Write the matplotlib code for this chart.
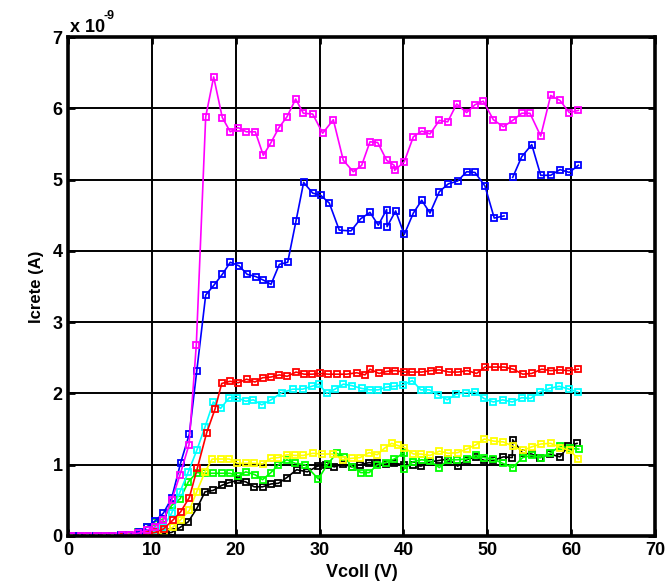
import matplotlib
matplotlib.use("Agg")
import matplotlib.pyplot as plt
import numpy as np

# Icrete (in units of 1e-9 A) vs Vcoll (V), one list pair per curve
x_magenta = [0.4, 1.6, 2.4, 3.4, 4.4, 5.4, 6.4, 7.4, 8.4, 9.38,
             10.37, 11.37, 12.36, 13.36, 14.43, 15.3, 16.42, 17.37, 18.4, 19.35,
             20.27, 21.26, 22.34, 23.29, 24.21, 25.16, 26.11, 27.15, 28.06, 29.18,
             30.37, 31.64, 32.83, 34.02, 35.02, 36.01, 36.93, 38.0, 38.9, 38.95,
             40.1, 41.18, 42.18, 43.17, 44.28, 45.28, 46.35, 47.54, 48.53, 49.52,
             50.72, 51.91, 53.03, 54.1, 55.09, 56.37, 57.56, 58.67, 59.78, 60.85]
y_magenta = [0, 0, 0, 0, 0, 0, 0.01, 0.02, 0.04, 0.08,
             0.13, 0.22, 0.5, 0.86, 1.28, 2.68, 5.88, 6.44, 5.87, 5.67,
             5.73, 5.67, 5.67, 5.34, 5.52, 5.73, 5.88, 6.13, 5.93, 5.92,
             5.65, 5.84, 5.27, 5.11, 5.2, 5.53, 5.52, 5.27, 5.2, 5.13,
             5.25, 5.6, 5.68, 5.64, 5.83, 5.81, 6.06, 5.94, 6.05, 6.1,
             5.84, 5.74, 5.83, 5.93, 5.93, 5.61, 6.18, 6.11, 5.94, 5.97]

x_blue = [0.3, 1.3, 2.3, 3.3, 4.3, 5.3, 6.3, 7.3, 8.45, 9.46,
          10.37, 11.37, 12.36, 13.44, 14.47, 15.35, 16.42, 17.41, 18.4, 19.35,
          20.39, 21.38, 22.38, 23.29, 24.21, 25.2, 26.2, 27.19, 28.1, 29.18,
          30.13, 31.16, 32.35, 33.75, 34.9, 36.01, 37.0, 38.0, 38.05, 39.07,
          40.1, 41.18, 42.18, 43.17, 44.28, 45.35, 46.47, 47.54, 48.53, 49.72,
          50.83, 51.99, 52.5, 53.03, 54.1, 55.3, 56.37, 57.56, 58.67, 59.78,
          60.85]
y_blue = [0, 0, 0, 0, 0, 0, 0.01, 0.02, 0.06, 0.13,
          0.21, 0.32, 0.53, 1.03, 1.43, 2.31, 3.38, 3.52, 3.67, 3.84,
          3.79, 3.67, 3.64, 3.59, 3.53, 3.81, 3.84, 4.42, 4.96, 4.81,
          4.78, 4.67, 4.29, 4.28, 4.45, 4.54, 4.36, 4.58, 4.34, 4.56,
          4.23, 4.53, 4.71, 4.53, 4.83, 4.94, 4.98, 5.11, 5.1, 4.91,
          4.46, 4.49, np.nan, 5.03, 5.32, 5.49, 5.06, 5.06, 5.14, 5.1,
          5.2]

x_red = [0.3, 1.3, 2.3, 3.3, 4.3, 5.3, 6.3, 7.3, 8.4, 9.4,
         10.4, 11.4, 12.48, 13.44, 14.47, 15.42, 16.54, 17.53, 18.33, 19.32,
         20.3, 21.3, 22.3, 23.2, 24.2, 25.2, 26.15, 27.19, 28.14, 29.13,
         30.05, 31.04, 32.04, 33.23, 34.43, 35.42, 36.01, 37.09, 38.05, 39.05,
         40.07, 41.06, 42.18, 43.25, 44.28, 45.43, 46.54, 47.61, 48.73, 49.72,
         50.92, 52.03, 53.1, 54.22, 55.29, 56.49, 57.56, 58.67, 59.74, 60.85]
y_red = [0, 0, 0, 0, 0, 0, 0, 0.01, 0.02, 0.03,
         0.05, 0.1, 0.22, 0.34, 0.54, 0.95, 1.45, 1.78, 2.14, 2.17,
         2.15, 2.2, 2.16, 2.22, 2.23, 2.26, 2.24, 2.3, 2.27, 2.27,
         2.28, 2.27, 2.27, 2.27, 2.29, 2.26, 2.34, 2.28, 2.31, 2.32,
         2.3, 2.3, 2.3, 2.32, 2.33, 2.3, 2.3, 2.32, 2.28, 2.37,
         2.37, 2.37, 2.34, 2.27, 2.28, 2.34, 2.32, 2.33, 2.32, 2.34]

x_cyan = [0.3, 1.3, 2.3, 3.3, 4.3, 5.3, 6.3, 7.3, 8.4, 9.4,
          10.4, 11.37, 12.36, 13.36, 14.35, 15.35, 16.34, 17.33, 18.2, 19.23,
          20.19, 21.19, 22.1, 23.1, 24.21, 25.48, 26.79, 27.98, 29.06, 29.93,
          30.85, 31.84, 32.83, 33.83, 35.02, 36.01, 37.0, 38.0, 38.9, 39.98,
          41.06, 42.06, 43.09, 44.16, 45.23, 46.27, 47.42, 48.53, 49.6, 50.72,
          51.83, 52.98, 54.1, 55.17, 56.28, 57.39, 58.59, 59.74, 60.78]
y_cyan = [0, 0, 0, 0, 0, 0, 0, 0.01, 0.02, 0.04,
          0.07, 0.13, 0.32, 0.62, 0.9, 1.2, 1.53, 1.88, 1.79, 1.94,
          1.94, 1.89, 1.91, 1.84, 1.91, 2.01, 2.06, 2.06, 2.1, 2.13,
          2.0, 2.06, 2.13, 2.11, 2.07, 2.05, 2.05, 2.09, 2.1, 2.12,
          2.18, 2.05, 2.05, 1.98, 1.91, 1.99, 2.01, 2.02, 1.93, 1.88,
          1.91, 1.88, 1.94, 1.93, 2.02, 2.07, 2.1, 2.06, 2.02]

x_yellow = [0.3, 1.3, 2.3, 3.3, 4.3, 5.3, 6.3, 7.3, 8.4, 9.4,
            10.4, 11.4, 12.48, 13.44, 14.47, 15.35, 16.34, 17.2, 18.3, 19.23,
            20.2, 21.2, 22.2, 23.2, 24.2, 25.1, 26.1, 27.07, 28.06, 29.18,
            30.33, 31.56, 32.76, 33.83, 34.82, 35.9, 36.88, 37.72, 38.6, 39.3,
            40.1, 41.18, 42.1, 43.17, 44.28, 45.35, 46.47, 47.54, 48.65, 49.64,
            50.8, 51.91, 53.03, 54.22, 55.29, 56.37, 57.56, 58.67, 59.86, 60.85]
y_yellow = [0, 0, 0, 0, 0, 0, 0, 0, 0.01, 0.02,
            0.03, 0.06, 0.12, 0.23, 0.36, 0.62, 0.9, 1.08, 1.08, 1.08,
            1.02, 1.02, 1.02, 1.01, 1.09, 1.1, 1.14, 1.13, 1.13, 1.16,
            1.15, 1.15, 1.07, 1.09, 1.1, 1.17, 1.14, 1.23, 1.3, 1.27,
            1.24, 1.15, 1.15, 1.13, 1.19, 1.16, 1.17, 1.22, 1.28, 1.36,
            1.33, 1.32, 1.26, 1.2, 1.25, 1.29, 1.3, 1.24, 1.2, 1.08]

x_green = [0.3, 1.3, 2.3, 3.3, 4.3, 5.3, 6.3, 7.3, 8.4, 9.38,
           10.37, 11.37, 12.36, 13.36, 14.35, 15.35, 16.34, 17.33, 18.33, 19.32,
           20.31, 21.2, 22.3, 23.2, 24.2, 25.1, 26.1, 27.07, 28.26, 29.85,
           30.97, 32.04, 32.95, 33.9, 34.9, 35.93, 36.88, 37.88, 38.91, 40.1,
           40.12, 41.1, 42.18, 43.17, 44.28, 45.35, 46.43, 47.54, 48.65, 49.64,
           50.72, 51.83, 53.03, 54.22, 55.29, 56.37, 57.47, 58.67, 59.86, 60.9]
y_green = [0, 0, 0, 0, 0, 0, 0.01, 0.02, 0.05, 0.13,
           0.2, 0.24, 0.43, 0.52, 0.76, 0.89, 0.88, 0.88, 0.88, 0.88,
           0.84, 0.9, 0.86, 0.79, 0.89, 1.0, 1.07, 1.02, 1.0, 0.8,
           1.01, 1.16, 1.11, 0.97, 0.89, 0.89, 1.0, 1.03, 1.08, 1.17,
           0.94, 1.04, 1.07, 1.05, 0.96, 1.07, 1.07, 1.08, 1.13, 1.1,
           1.08, 1.02, 0.96, 1.1, 1.13, 1.1, 1.16, 1.26, 1.23, 1.22]

x_black = [0.3, 1.3, 2.3, 3.3, 4.3, 5.3, 6.3, 7.3, 8.4, 9.4,
           10.4, 11.4, 12.36, 13.36, 14.35, 15.42, 16.34, 17.33, 18.33, 19.23,
           20.23, 21.2, 22.2, 23.2, 24.2, 25.1, 26.1, 27.27, 28.54, 29.77,
           30.77, 31.76, 32.83, 33.83, 34.82, 35.9, 36.88, 37.88, 38.91, 40.1,
           41.1, 42.1, 43.17, 44.28, 45.35, 46.47, 47.54, 48.65, 49.64, 50.72,
           51.91, 52.98, 53.03, 54.22, 55.29, 56.28, 57.47, 58.67, 59.66, 60.7]
y_black = [0, 0, 0, 0, 0, 0, 0, 0, 0, 0.01,
           0.02, 0.03, 0.05, 0.12, 0.2, 0.4, 0.62, 0.64, 0.71, 0.75,
           0.78, 0.76, 0.69, 0.69, 0.73, 0.74, 0.82, 0.93, 0.9, 0.98,
           1.0, 0.97, 1.01, 0.97, 1.0, 1.03, 1.02, 1.01, 1.02, 1.0,
           1.0, 0.98, 1.04, 1.06, 1.08, 0.98, 1.07, 1.11, 1.06, 1.06,
           1.11, 1.1, 1.35, 1.16, 1.15, 1.1, 1.15, 1.11, 1.26, 1.3]

curves = [
    (x_black, y_black, "#000000"),
    (x_green, y_green, "#00ff00"),
    (x_yellow, y_yellow, "#ffff00"),
    (x_cyan, y_cyan, "#00ffff"),
    (x_red, y_red, "#ff0000"),
    (x_blue, y_blue, "#0000ff"),
    (x_magenta, y_magenta, "#ff00ff"),
]

plt.rcParams["font.family"] = ["Liberation Sans", "DejaVu Sans"]
plt.rcParams["font.weight"] = "bold"

fig = plt.figure(figsize=(6.67, 5.84), dpi=100)
ax = fig.add_axes([68 / 667, 48 / 584, 587 / 667, 499 / 584])

for xs, ys, col in curves:
    ax.plot(xs, ys, color=col, lw=1.2, marker="s", ms=4.3, mfc="none",
            mec=col, mew=1.3)

ax.set_xlim(0, 70)
ax.set_ylim(0, 7)
ax.set_xticks(range(0, 71, 10))
ax.set_yticks(range(0, 8))
ax.grid(True, color="black", lw=1.4, ls="-")
ax.set_axisbelow(True)
for sp in ax.spines.values():
    sp.set_linewidth(2.6)
ax.tick_params(direction="in", length=5, width=2, top=True, right=True,
               labelsize=13, pad=4)
for lab in ax.get_xticklabels() + ax.get_yticklabels():
    lab.set_fontweight("bold")

ax.set_xlabel("Vcoll (V)", fontsize=13, fontweight="bold", labelpad=4)
ax.set_ylabel("Icrete (A)", fontsize=12, fontweight="bold", labelpad=6)

# exponent label, matlab style
fig.text(70 / 667, 1 - 32 / 584, "x 10", fontsize=13, fontweight="bold",
         ha="left", va="baseline")
fig.text(104 / 667, 1 - 19 / 584, "-9", fontsize=9, fontweight="bold",
         ha="left", va="baseline")

fig.savefig("out.png", dpi=100)
